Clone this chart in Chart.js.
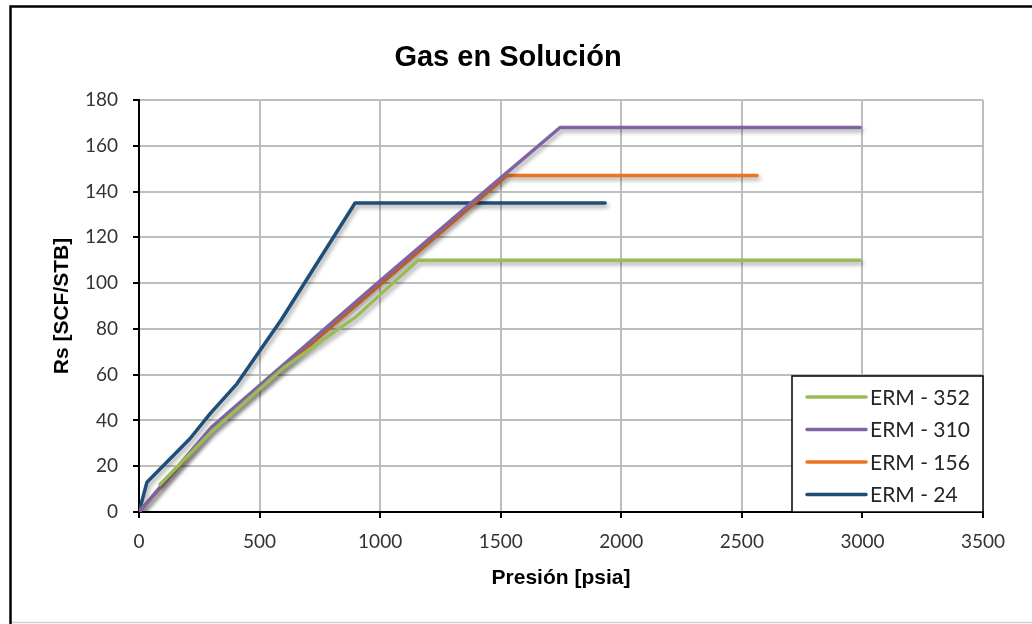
<!DOCTYPE html>
<html>
<head>
<meta charset="utf-8">
<script src="https://cdn.jsdelivr.net/npm/chart.js@4/dist/chart.umd.min.js"></script>
<style>
  html, body { margin: 0; padding: 0; background: #ffffff; }
  #wrap { width: 1032px; height: 624px; }
</style>
</head>
<body>
<div id="wrap"><canvas id="c" width="1032" height="624"></canvas></div>
<script>
// Solution gas-oil ratio (Rs) versus pressure for four wells
const seriesNames = ['ERM - 352', 'ERM - 310', 'ERM - 156', 'ERM - 24'];
const seriesColors = ['#9BBB59', '#8064A2', '#EE7420', '#1F4E79'];

const erm352Pressure = [87, 300, 600, 896, 1157, 2990];
const erm352Rs       = [12, 35, 63, 85, 110, 110];

const erm310Pressure = [0, 300, 1000, 1500, 1746, 2990];
const erm310Rs       = [0, 37, 101, 146, 168, 168];

const erm156Pressure = [0, 300, 1526, 2563];
const erm156Rs       = [0, 36, 147, 147];

const erm24Pressure  = [0, 33, 211, 295, 406, 590, 896, 1933];
const erm24Rs        = [0, 13, 32, 43, 56, 84, 135, 135];

const xTicks = [0, 500, 1000, 1500, 2000, 2500, 3000, 3500];
const yTicks = [0, 20, 40, 60, 80, 100, 120, 140, 160, 180];

const pressureSets = [erm352Pressure, erm310Pressure, erm156Pressure, erm24Pressure];
const rsSets = [erm352Rs, erm310Rs, erm156Rs, erm24Rs];

const datasets = seriesNames.map((name, i) => ({
  label: name,
  data: pressureSets[i].map((p, k) => ({ x: p, y: rsSets[i][k] })),
  borderColor: seriesColors[i],
  backgroundColor: seriesColors[i],
  borderWidth: 3.5,
  pointRadius: 0,
  tension: 0,
  fill: false,
  borderCapStyle: 'round',
  borderJoinStyle: 'round'
}));

// soft drop shadow under the series lines
const lineShadow = {
  id: 'lineShadow',
  beforeDatasetsDraw(chart) {
    const ctx = chart.ctx;
    ctx.save();
    ctx.shadowColor = 'rgba(0,0,0,0.35)';
    ctx.shadowBlur = 4;
    ctx.shadowOffsetX = 2;
    ctx.shadowOffsetY = 3;
  },
  afterDatasetsDraw(chart) {
    chart.ctx.restore();
  }
};

// boxed legend inside the lower right of the plot area
const boxLegend = {
  id: 'boxLegend',
  afterDraw(chart) {
    const ctx = chart.ctx;
    const area = chart.chartArea;
    const w = 191, h = 136;
    const x0 = area.right - w, y0 = area.bottom - h;
    ctx.save();
    ctx.fillStyle = '#ffffff';
    ctx.fillRect(x0, y0, w, h);
    ctx.strokeStyle = '#000000';
    ctx.lineWidth = 1.5;
    ctx.strokeRect(x0, y0, w, h);
    ctx.font = '21px Lato, "Liberation Sans", sans-serif';
    ctx.textBaseline = 'middle';
    ctx.fillStyle = '#262626';
    chart.data.datasets.forEach((ds, i) => {
      const yy = y0 + 21 + i * 32.5;
      ctx.strokeStyle = ds.borderColor;
      ctx.lineWidth = 3.5;
      ctx.lineCap = 'round';
      ctx.beginPath();
      ctx.moveTo(x0 + 15, yy);
      ctx.lineTo(x0 + 74, yy);
      ctx.stroke();
      ctx.fillText(ds.label, x0 + 78, yy + 1);
    });
    ctx.restore();
  }
};

// frame edges around the figure
const outerFrame = {
  id: 'outerFrame',
  afterDraw(chart) {
    const ctx = chart.ctx;
    ctx.save();
    ctx.strokeStyle = '#000000';
    ctx.lineWidth = 2.5;
    ctx.beginPath();
    ctx.moveTo(10.5, 624);
    ctx.lineTo(10.5, 6.5);
    ctx.lineTo(1032, 6.5);
    ctx.stroke();
    ctx.strokeStyle = '#D0D0D0';
    ctx.lineWidth = 1.5;
    ctx.beginPath();
    ctx.moveTo(12, 622.5);
    ctx.lineTo(1032, 622.5);
    ctx.stroke();
    ctx.restore();
  }
};

const tickFont = { family: 'Lato, "Liberation Sans", sans-serif', size: 19 };

new Chart(document.getElementById('c'), {
  type: 'line',
  data: { datasets },
  plugins: [lineShadow, boxLegend, outerFrame],
  options: {
    responsive: false,
    animation: false,
    devicePixelRatio: 1,
    layout: { padding: { left: 33, right: 49, top: 0, bottom: 0 } },
    plugins: {
      legend: { display: false },
      tooltip: { enabled: false },
      title: {
        display: true,
        text: 'Gas en Solución',
        color: '#000000',
        font: { family: '"Liberation Sans", Arial, sans-serif', size: 29, weight: 'bold' },
        padding: { top: 41, bottom: 24.2 }
      }
    },
    scales: {
      x: {
        type: 'linear',
        min: 0,
        max: 3500,
        afterBuildTicks(scale) { scale.ticks = xTicks.map(v => ({ value: v })); },
        afterFit(scale) { scale.height = 112; },
        ticks: { color: '#333333', font: tickFont, padding: 12, maxRotation: 0, callback: v => String(v) },
        grid: { color: '#BEBEBE', lineWidth: 2, tickColor: '#000000', tickLength: 6 },
        border: { color: '#000000', width: 2 },
        title: {
          display: true,
          text: 'Presión [psia]',
          color: '#000000',
          font: { family: '"Liberation Sans", Arial, sans-serif', size: 21, weight: 'bold' },
          padding: { top: 4, bottom: 33.4 }
        }
      },
      y: {
        type: 'linear',
        min: 0,
        max: 180,
        afterBuildTicks(scale) { scale.ticks = yTicks.map(v => ({ value: v })); },
        afterFit(scale) { scale.width = 106; },
        ticks: { color: '#333333', font: tickFont, padding: 15, callback: v => String(v) },
        grid: { color: '#BEBEBE', lineWidth: 2, tickColor: '#000000', tickLength: 6 },
        border: { color: '#000000', width: 2 },
        title: {
          display: true,
          text: 'Rs [SCF/STB]',
          color: '#000000',
          font: { family: '"Liberation Sans", Arial, sans-serif', size: 21, weight: 'bold' },
          padding: { top: 16.4, bottom: 4 }
        }
      }
    }
  }
});
</script>
</body>
</html>
